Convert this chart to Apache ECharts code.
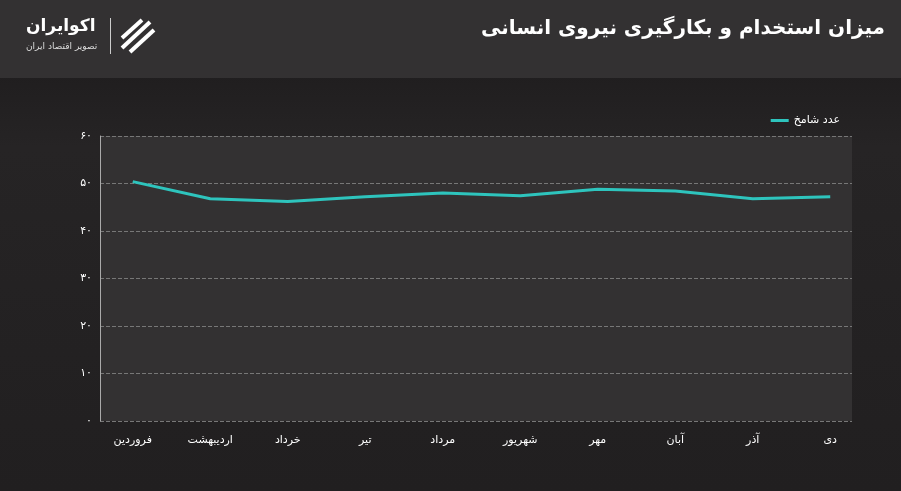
<!DOCTYPE html>
<html><head><meta charset="utf-8">
<script src="https://cdn.jsdelivr.net/npm/echarts@6/dist/echarts.min.js"></script>
<style>
html,body{margin:0;padding:0;background:#1f1d1e;}
#c{width:901px;height:491px;}
</style></head>
<body><div id="c"></div>
<script>
var months = ['فروردین', 'اردیبهشت', 'خرداد', 'تیر', 'مرداد', 'شهریور', 'مهر', 'آبان', 'آذر', 'دی'];
var values = [50.4, 46.8, 46.2, 47.2, 48.0, 47.4, 48.8, 48.4, 46.8, 47.2];
var seriesName = 'عدد شامخ';
var title = 'میزان استخدام و بکارگیری نیروی انسانی';

function fa(n)
{
	return String(n).replace(/[0-9]/g, function(d){ return '۰۱۲۳۴۵۶۷۸۹'[d]; });
}

var chart = echarts.init(document.getElementById('c'));
var font = 'DejaVu Sans';
chart.setOption({
	backgroundColor: {
		type: 'linear', x: 0, y: 0, x2: 0, y2: 1,
		colorStops: [{offset: 0, color: '#1a1819'}, {offset: 0.3, color: '#262425'}, {offset: 1, color: '#211f20'}]
	},
	graphic: [
		{type: 'rect', shape: {x: 0, y: 0, width: 901, height: 78}, style: {fill: '#333132'}},
		{type: 'text', right: 16, top: 19, style: {text: title, fill: '#ffffff', font: 'bold 20px "DejaVu Sans"'}},
		{type: 'text', left: 26, top: 18, style: {text: 'اکوایران', fill: '#ffffff', font: 'bold 17px "DejaVu Sans"'}},
		{type: 'text', left: 26, top: 42, style: {text: 'تصویر اقتصاد ایران', fill: '#dddddd', font: '9px "DejaVu Sans"'}},
		{type: 'rect', shape: {x: 110, y: 18, width: 1, height: 36}, style: {fill: '#cccccc'}},
		{type: 'polyline', shape: {points: [[122, 48], [150, 22]]}, style: {stroke: '#fff', lineWidth: 4}},
		{type: 'polyline', shape: {points: [[122, 38], [142, 20]]}, style: {stroke: '#fff', lineWidth: 4}},
		{type: 'polyline', shape: {points: [[130, 52], [154, 30]]}, style: {stroke: '#fff', lineWidth: 4}}
	],
	legend: {
		right: 56, top: 110, itemWidth: 18, itemHeight: 3, icon: 'rect',
		textStyle: {color: '#ffffff', fontFamily: font, fontSize: 11},
		data: [seriesName]
	},
	grid: [
		{left: 94, right: 32, top: 136, bottom: 70},
		{left: 100, right: 49, top: 136, bottom: 70, show: true, backgroundColor: '#333132', borderWidth: 0, z: 0}
	],
	xAxis: [
		{
			type: 'category', data: months, boundaryGap: true, gridIndex: 0,
			axisLine: {show: false}, axisTick: {show: false},
			axisLabel: {color: '#ffffff', fontFamily: font, fontSize: 11, margin: 14}
		},
		{type: 'category', data: months, gridIndex: 1, show: false}
	],
	yAxis: [
		{
			type: 'value', min: 0, max: 60, interval: 10, gridIndex: 0, offset: -6,
			axisLine: {show: true, lineStyle: {color: '#aaaaaa'}},
			axisLabel: {color: '#ffffff', fontFamily: font, fontSize: 11, formatter: fa},
			splitLine: {show: false}
		},
		{
			type: 'value', min: 0, max: 60, interval: 10, gridIndex: 1,
			axisLine: {show: false}, axisLabel: {show: false}, axisTick: {show: false},
			splitLine: {lineStyle: {color: '#777777', type: 'dashed'}}
		}
	],
	series: [{
		name: seriesName, type: 'line', data: values, symbol: 'none', z: 5,
		lineStyle: {color: '#2ec4bd', width: 3}, itemStyle: {color: '#2ec4bd'}
	}]
});
</script></body></html>
